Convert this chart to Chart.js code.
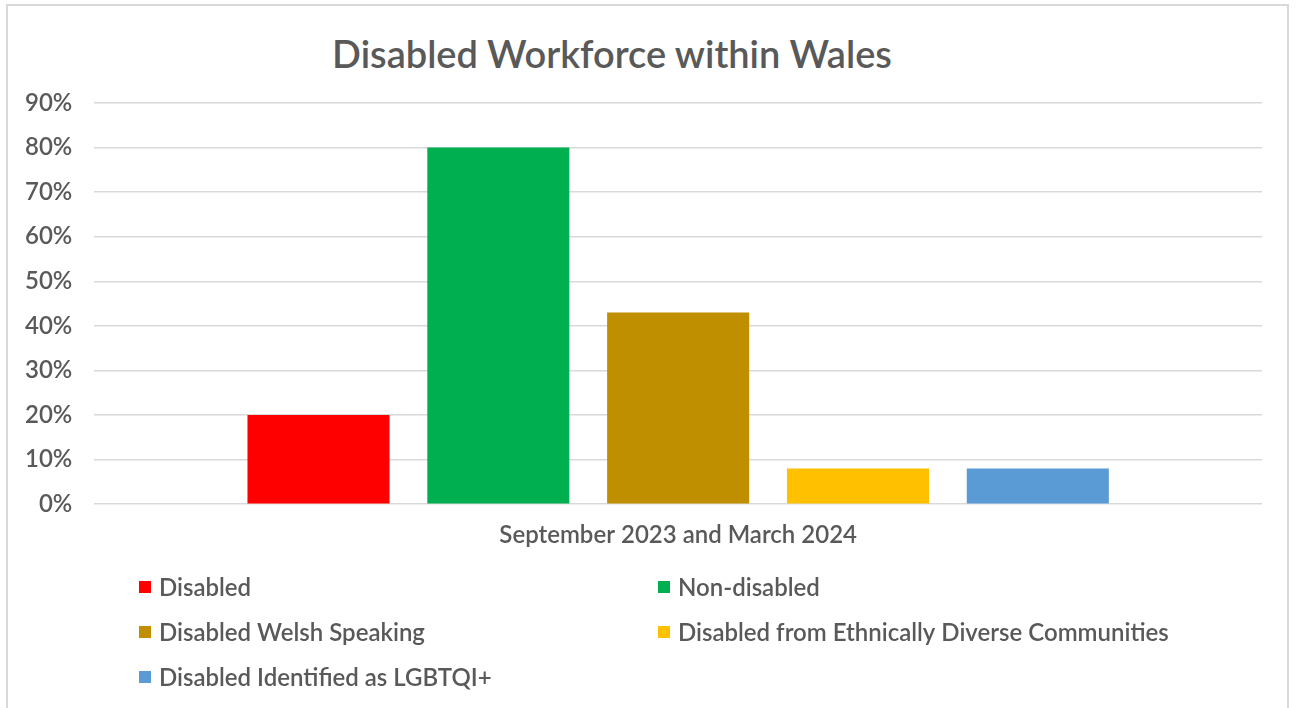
<!DOCTYPE html>
<html>
<head>
<meta charset="utf-8">
<title>Disabled Workforce within Wales</title>
<script src="https://cdn.jsdelivr.net/npm/chart.js@4"></script>
<style>
  html, body { margin: 0; padding: 0; background: #fff; overflow: hidden; }
  #wrap { position: relative; width: 1297px; height: 708px; }
  #frame { position: absolute; left: 6px; top: 4px; width: 1283px; height: 720px; border: 2px solid #d9d9d9; box-sizing: border-box; }
  #title { position: absolute; left: 0; top: 30px; width: 1224px; text-align: center;
           font: 600 38px Lato, 'Open Sans', sans-serif; line-height: 46px; color: #595959; }
  #chart { position: absolute; left: 0; top: 0; }
</style>
</head>
<body>
<div id="wrap">
  <div id="frame"></div>
  <div id="title">Disabled Workforce within Wales</div>
  <canvas id="chart" width="1297" height="708"></canvas>
</div>
<script>
// ─── DATA ─────────────────────────────────────────────────────────────────────
const categories = ['September 2023 and March 2024'];
const seriesNames = [
    'Disabled',
    'Non-disabled',
    'Disabled Welsh Speaking',
    'Disabled from Ethnically Diverse Communities',
    'Disabled Identified as LGBTQI+'
];
const seriesValues = [20, 80, 43, 8, 8];
const seriesColors = ['#FF0000', '#00B050', '#BF8F00', '#FFC000', '#5B9BD5'];
const yTicks = [0, 10, 20, 30, 40, 50, 60, 70, 80, 90];

// ─── DEFAULTS ─────────────────────────────────────────────────────────────────
Chart.defaults.font.family = "Lato, 'Open Sans', sans-serif";
Chart.defaults.font.weight = '600';
Chart.defaults.color = '#595959';

// ─── LEGEND (two fixed columns, like the Excel one) ───────────────────────────
const gridLegend = {
    id: 'gridLegend',
    afterDraw(chart) {
        const o = chart.options.plugins.gridLegend;
        const ctx = chart.ctx;
        ctx.save();
        ctx.font = '600 ' + o.fontSize + 'px ' + Chart.defaults.font.family;
        ctx.textBaseline = 'middle';
        chart.data.datasets.forEach((ds, i) => {
            const x = o.columns[i % o.columns.length];
            const y = o.top + Math.floor(i / o.columns.length) * o.rowGap;
            ctx.fillStyle = ds.backgroundColor;
            ctx.fillRect(x, y - o.box / 2, o.box, o.box);
            ctx.fillStyle = '#595959';
            ctx.fillText(ds.label, x + o.box + 8, y + 1);
        });
        ctx.restore();
    }
};

// ─── CHART ────────────────────────────────────────────────────────────────────
new Chart(document.getElementById('chart'), {
    type: 'bar',
    data: {
        labels: categories,
        datasets: seriesNames.map((name, i) => ({
            label: name,
            data: [seriesValues[i]],
            backgroundColor: seriesColors[i],
            borderWidth: 0,
            categoryPercentage: 0.77,
            barPercentage: 0.79
        }))
    },
    options: {
        responsive: false,
        animation: false,
        layout: { padding: { left: 3, right: 35, top: 103, bottom: 149 } },
        plugins: {
            legend: { display: false },
            tooltip: { enabled: false },
            title: { display: false },
            gridLegend: { columns: [139, 658], top: 587, rowGap: 45, box: 12, fontSize: 24 }
        },
        scales: {
            x: {
                grid: { display: false },
                border: { display: false },
                ticks: { font: { size: 24 }, padding: 9, color: '#595959' }
            },
            y: {
                min: 0,
                max: 90,
                afterBuildTicks: axis => { axis.ticks = yTicks.map(v => ({ value: v })); },
                grid: { color: '#d9d9d9', lineWidth: 1.5, drawTicks: false },
                border: { display: false },
                ticks: { font: { size: 24 }, padding: 22, color: '#595959', callback: v => v + '%' }
            }
        }
    },
    plugins: [gridLegend]
});
</script>
</body>
</html>
